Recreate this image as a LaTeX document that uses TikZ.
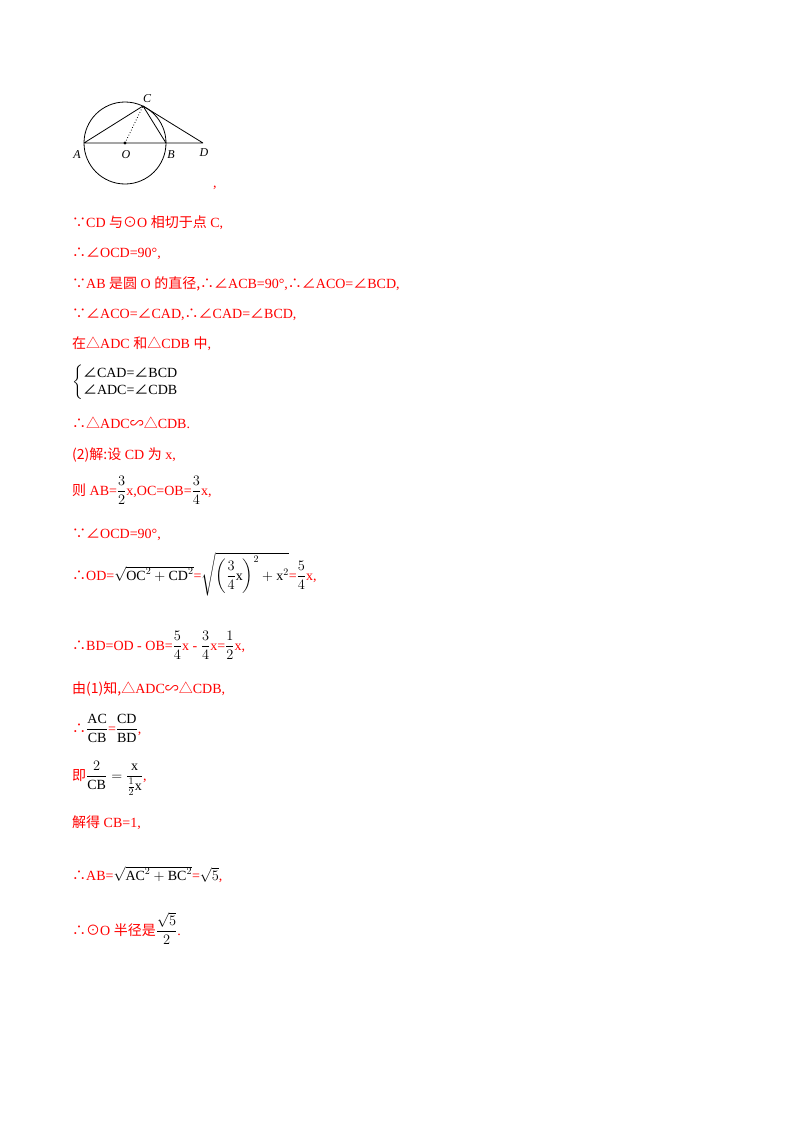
\documentclass[tikz,border=0pt]{standalone}
\usepackage{amsmath}
\usepackage{fontspec}
\setmainfont{Liberation Serif}
\newfontfamily\cjk{Noto Sans CJK SC}
\newcommand{\zh}[1]{{\cjk #1}}
\begin{document}
\begin{tikzpicture}[x=1pt,y=-1pt,
  txt/.style={anchor=base west,inner sep=0pt,text=red,font=\fontsize{14}{16}\selectfont},
  lbl/.style={font=\itshape\fontsize{12}{14}\selectfont,inner sep=0pt},
  blk/.style={text=black}]
\useasboundingbox[fill=white] (0,0) rectangle (800,1132);
% figure
\coordinate (O) at (125,143);
\coordinate (A) at (84,143);
\coordinate (B) at (166,143);
\coordinate (C) at (143,106);
\coordinate (D) at (203,143);
\draw[line width=0.8pt] (O) circle (41);
\draw[line width=0.8pt] (A) -- (D) (A) -- (C) -- (B) (C) -- (D);
\draw[dotted,line width=0.8pt] (O) -- (C);
\fill (O) circle (1.6);
\node[lbl] (lA) at (77,155) {A};
\node[lbl] (lO) at (126,155) {O};
\node[lbl] (lB) at (171,155) {B};
\node[lbl] (lC) at (147,99) {C};
\node[lbl] (lD) at (204,153) {D};
\node[txt] (comma) at (213,187) {,};
% text
\node[txt] (t1) at (72,227) {\zh{∵}CD \zh{与⊙}O \zh{相切于点} C,};
\node[txt] (t2) at (72,257) {\zh{∴∠}OCD=90°,};
\node[txt] (t3) at (72,288) {\zh{∵}AB \zh{是圆} O \zh{的直径,∴∠}ACB=90°,\zh{∴∠}ACO=\zh{∠}BCD,};
\node[txt] (t4) at (72,318) {\zh{∵∠}ACO=\zh{∠}CAD,\zh{∴∠}CAD=\zh{∠}BCD,};
\node[txt] (t5) at (72,348) {\zh{在△}ADC \zh{和△}CDB \zh{中},};
\node[txt,blk,anchor=west] (t6) at (72,382) {$\begin{cases}\text{\zh{∠}CAD=\zh{∠}BCD}\\[-2pt]\text{\zh{∠}ADC=\zh{∠}CDB}\end{cases}$};
\node[txt] (t7) at (72,428) {\zh{∴△}ADC\zh{∽△}CDB.};
\node[txt] (t8) at (72,459) {\zh{(2)解:设} CD \zh{为} x,};
\node[txt] (t9) at (72,495) {\zh{则} AB=\textcolor{black}{$\dfrac{3}{2}$}x,OC=OB=\textcolor{black}{$\dfrac{3}{4}$}x,};
\node[txt] (t10) at (72,538) {\zh{∵∠}OCD=90°,};
\node[txt] (t11) at (72,580) {\zh{∴}OD=\textcolor{black}{$\sqrt{\mathrm{OC}^2+\mathrm{CD}^2}$}=\textcolor{black}{$\sqrt{\left(\dfrac{3}{4}\mathrm{x}\right)^{2}+\mathrm{x}^2}$}=\textcolor{black}{$\dfrac{5}{4}$}x,};
\node[txt] (t12) at (72,650) {\zh{∴}BD=OD - OB=\textcolor{black}{$\dfrac{5}{4}$}x - \textcolor{black}{$\dfrac{3}{4}$}x=\textcolor{black}{$\dfrac{1}{2}$}x,};
\node[txt] (t13) at (72,693) {\zh{由(1)知,△}ADC\zh{∽△}CDB,};
\node[txt] (t14) at (72,733) {\zh{∴}\textcolor{black}{$\dfrac{\mathrm{AC}}{\mathrm{CB}}$}=\textcolor{black}{$\dfrac{\mathrm{CD}}{\mathrm{BD}}$},};
\node[txt] (t15) at (72,780) {\zh{即}\textcolor{black}{$\dfrac{2}{\mathrm{CB}}=\dfrac{\mathrm{x}}{\frac{1}{2}\mathrm{x}}$},};
\node[txt] (t16) at (72,827) {\zh{解得} CB=1,};
\node[txt] (t17) at (72,880) {\zh{∴}AB=\textcolor{black}{$\sqrt{\mathrm{AC}^2+\mathrm{BC}^2}$}=\textcolor{black}{$\sqrt{5}$},};
\node[txt] (t18) at (72,935) {\zh{∴⊙}O \zh{半径是}\textcolor{black}{$\dfrac{\sqrt{5}}{2}$}.};
\end{tikzpicture}
\end{document}
